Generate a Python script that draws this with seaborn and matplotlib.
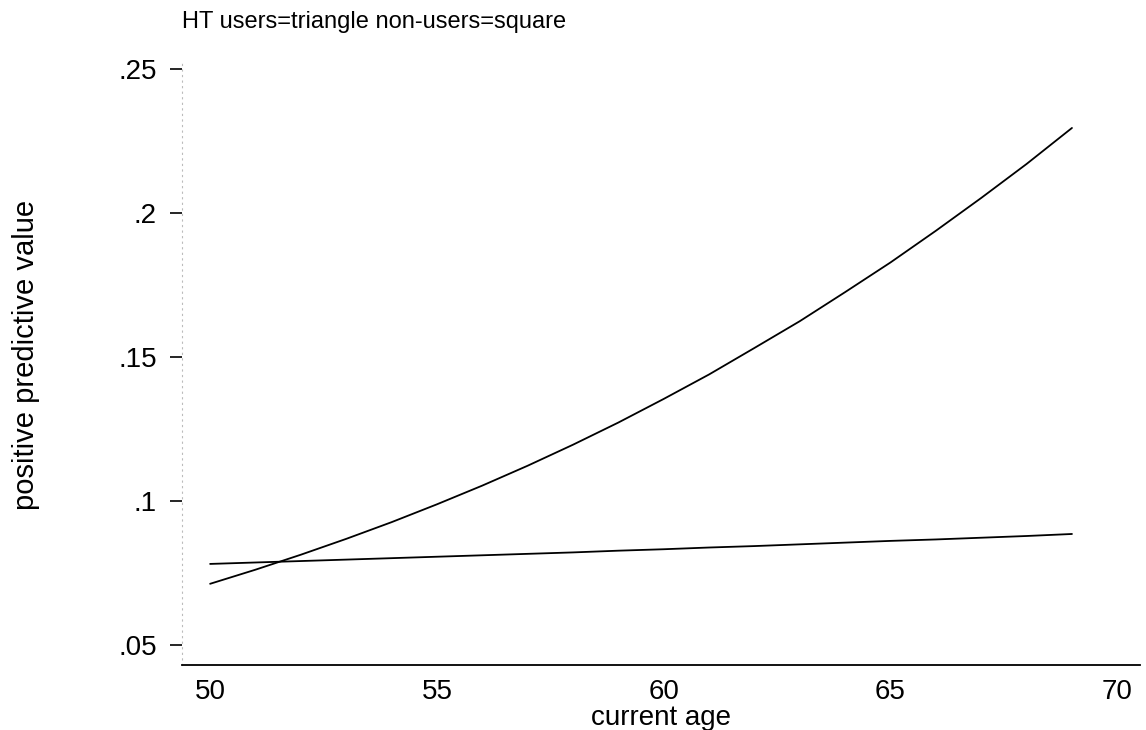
import matplotlib
matplotlib.use("Agg")
import matplotlib.pyplot as plt
import seaborn as sns
import pandas as pd

# ---- data ----
ages = [50, 51, 52, 53, 54, 55, 56, 57, 58, 59,
        60, 61, 62, 63, 64, 65, 66, 67, 68, 69]
ppv_ht_users = [0.0712, 0.0761, 0.0813, 0.0868, 0.0926, 0.0988, 0.1053, 0.1122, 0.1195, 0.1272,
                0.1354, 0.1439, 0.1531, 0.1624, 0.1725, 0.1828, 0.1938, 0.2052, 0.2170, 0.2295]
ppv_non_users = [0.0781, 0.0786, 0.0791, 0.0796, 0.0801, 0.0806, 0.0811, 0.0816, 0.0821, 0.0827,
                 0.0832, 0.0838, 0.0843, 0.0849, 0.0855, 0.0861, 0.0866, 0.0872, 0.0878, 0.0885]
group_names = ["HT users", "non-users"]
x_ticks = [50, 55, 60, 65, 70]
x_tick_labels = ["50", "55", "60", "65", "70"]
y_ticks = [0.05, 0.10, 0.15, 0.20, 0.25]
y_tick_labels = [".05", ".1", ".15", ".2", ".25"]
title_text = "HT users=triangle non-users=square"
x_label = "current age"
y_label = "positive predictive value"

df = pd.DataFrame({
    "age": ages * 2,
    "ppv": ppv_ht_users + ppv_non_users,
    "group": [group_names[0]] * len(ages) + [group_names[1]] * len(ages),
})

sns.set_theme(style="white")
plt.rcParams["font.family"] = ["Liberation Sans", "DejaVu Sans"]

W, H = 1146, 730
fig = plt.figure(figsize=(W / 100, H / 100), dpi=100)
ax = fig.add_axes([182 / W, 1 - 665 / H, (1140 - 182) / W, (665 - 60) / H])

sns.lineplot(data=df, x="age", y="ppv", hue="group",
             palette=["black", "black"], linewidth=1.3, legend=False, ax=ax)

ax.set_xlim(49.38, 70.5)
ax.set_ylim(0.043, 0.2531)

ax.set_xticks(x_ticks)
ax.set_xticklabels(x_tick_labels)
ax.set_yticks(y_ticks)
ax.set_yticklabels(y_tick_labels)

ax.tick_params(axis="x", length=0, pad=10, labelsize=20, colors="black")
ax.tick_params(axis="y", direction="out", length=9, width=1.2, pad=9,
               labelsize=20, colors="black", left=True)

for s in ["top", "right"]:
    ax.spines[s].set_visible(False)
ax.spines["bottom"].set_color("black")
ax.spines["bottom"].set_linewidth(1.3)
ax.spines["left"].set_color("#bbbbbb")
ax.spines["left"].set_linestyle((0, (1, 4)))
ax.spines["left"].set_linewidth(0.8)

ax.set_xlabel(x_label, fontsize=20, labelpad=0, color="black")
ax.set_ylabel(y_label, fontsize=21, color="black")
ax.yaxis.set_label_coords(-0.148, 0.512)

fig.text(182 / W, 1 - 22 / H, title_text, fontsize=17, ha="left", va="center", color="black")

fig.savefig("out.png", dpi=100, facecolor="white")
